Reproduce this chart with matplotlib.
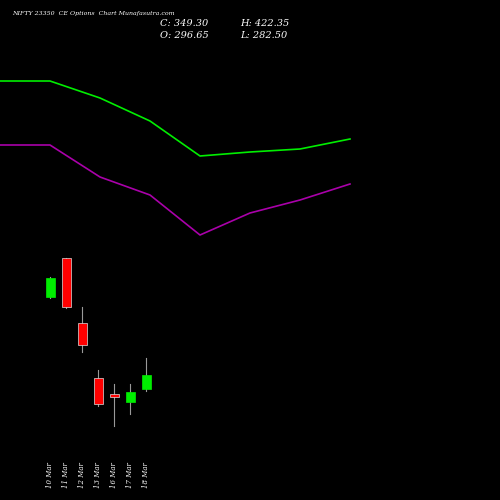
import matplotlib
matplotlib.use("Agg")
import matplotlib.pyplot as plt

dates = ["10 Mar", "11 Mar", "12 Mar", "13 Mar", "16 Mar", "17 Mar", "18 Mar"]
opens = [203, 242, 177, 122, 106, 98, 111]
closes = [222, 193, 155, 96, 103, 108, 125]
highs = [223, 242, 193, 130, 116, 116, 142]
lows = [202, 192, 148, 94, 74, 86, 109]
line_x = [0, 50, 100, 150, 200, 250, 300, 350]
upper = [419, 419, 402, 379, 344, 348, 351, 361]
lower = [355, 355, 323, 305, 265, 287, 300, 316]

fig = plt.figure(figsize=(5, 5), dpi=100, facecolor="black")
ax = fig.add_axes([0, 0, 1, 1], facecolor="black")
ax.set_xlim(0, 500)
ax.set_ylim(0, 500)
ax.axis("off")

ax.plot(line_x, upper, color="#00ee00", lw=1.2)
ax.plot(line_x, lower, color="#aa00aa", lw=1.2)

for i, d in enumerate(dates):
    x = 50 + 16 * i
    o, c, h, l = opens[i], closes[i], highs[i], lows[i]
    col = "#00ee00" if c >= o else "#ff0000"
    ax.plot([x, x], [l, h], color="#999999", lw=0.8, zorder=1)
    ax.bar(x, abs(c - o) if abs(c - o) > 1 else 2, bottom=min(o, c), width=9,
           color=col, edgecolor="#dddddd" if c < o else col, linewidth=0.5, zorder=2)
    ax.text(x, 12, d, rotation=90, color="white", fontsize=5, fontstyle="italic",
            family="DejaVu Serif", ha="center", va="bottom")

ax.text(12, 486, "NIFTY 23350  CE Options  Chart Munafasutra.com", color="white",
        fontsize=4.5, fontstyle="italic", family="DejaVu Serif", va="center")
ax.text(160, 476, "C: 349.30", color="white", fontsize=7, fontstyle="italic", family="DejaVu Serif", va="center")
ax.text(160, 465, "O: 296.65", color="white", fontsize=7, fontstyle="italic", family="DejaVu Serif", va="center")
ax.text(240, 476, "H: 422.35", color="white", fontsize=7, fontstyle="italic", family="DejaVu Serif", va="center")
ax.text(240, 465, "L: 282.50", color="white", fontsize=7, fontstyle="italic", family="DejaVu Serif", va="center")

fig.savefig("out.png", facecolor="black")
